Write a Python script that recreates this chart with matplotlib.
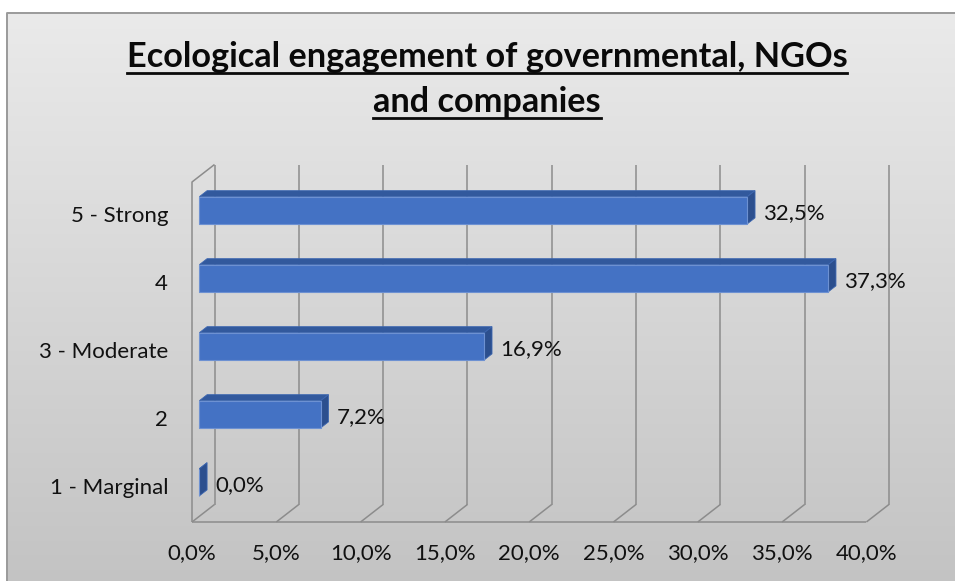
import matplotlib
matplotlib.use("Agg")
import matplotlib.pyplot as plt
import numpy as np

plt.rcParams['font.family'] = ['Lato', 'DejaVu Sans']

# survey answers, bottom to top
categories = ['1 - Marginal', '2', '3 - Moderate', '4', '5 - Strong']
values = [0.0, 7.2, 16.9, 37.3, 32.5]
x_ticks = [0, 5, 10, 15, 20, 25, 30, 35, 40]
title_lines = ['Ecological engagement of governmental, NGOs', 'and companies']

W, H = 955, 581
fig = plt.figure(figsize=(W / 100, H / 100), dpi=100)
fig.patch.set_facecolor('white')

# background panel with vertical grey gradient
bg = fig.add_axes([0, 0, 1, 1])
bg.set_xlim(0, W)
bg.set_ylim(H, 0)
bg.axis('off')
grad = np.linspace(0, 1, 256).reshape(-1, 1)
top_c = np.array([0xea, 0xea, 0xea]) / 255
bot_c = np.array([0xc3, 0xc3, 0xc3]) / 255
img = top_c + (bot_c - top_c) * grad[..., None]
bg.imshow(img, extent=(7, W + 5, H + 5, 13), aspect='auto', zorder=0)
bg.plot([7, 7, W + 5], [H + 5, 13, 13], color='#9a9a9a', lw=1.4, zorder=1)

# plot axes: x in percent on the front plane, y in category units
px_per_pct = 84.3 / 5
px_per_cat = 68.0
x0_px, floor_px = 192, 522
ax = fig.add_axes([0, 0, 1, 1])
ax.set_xlim(-x0_px / px_per_pct, (W - x0_px) / px_per_pct)
ax.set_ylim((floor_px - H) / px_per_cat - 0.5, floor_px / px_per_cat - 0.5)
ax.axis('off')
ax.patch.set_alpha(0)

# oblique depth offset (z = 0 front, z = 1 back wall)
KX = 22.5 / px_per_pct
KY = 17.5 / px_per_cat


def P(x, y, z):
    return (x + z * KX, y + z * KY)


ymin, ymax = -0.5, len(categories) - 0.5
xmax = x_ticks[-1]
grid_kw = dict(color='#8c8c8c', lw=1.1, zorder=2, solid_capstyle='butt')

# back wall gridlines and floor diagonals
for xt in x_ticks:
    a, b = P(xt, ymin, 1), P(xt, ymax, 1)
    ax.plot([a[0], b[0]], [a[1], b[1]], **grid_kw)
    a, b = P(xt, ymin, 0), P(xt, ymin, 1)
    ax.plot([a[0], b[0]], [a[1], b[1]], **grid_kw)
# floor front edge
a, b = P(0, ymin, 0), P(xmax, ymin, 0)
ax.plot([a[0], b[0]], [a[1], b[1]], **grid_kw)
# side wall outline
pts = [P(0, ymin, 0), P(0, ymax, 0), P(0, ymax, 1)]
ax.plot([p[0] for p in pts], [p[1] for p in pts], **grid_kw)

# 3d bars
z0, z1, hh = 0.33, 0.67, 0.2
front_c, top_c2, side_c = '#4472c4', '#32599d', '#2c4f8e'
for i, v in enumerate(values):
    top = [P(0, i + hh, z0), P(v, i + hh, z0), P(v, i + hh, z1), P(0, i + hh, z1)]
    side = [P(v, i - hh, z0), P(v, i - hh, z1), P(v, i + hh, z1), P(v, i + hh, z0)]
    front = [P(0, i - hh, z0), P(v, i - hh, z0), P(v, i + hh, z0), P(0, i + hh, z0)]
    ax.fill(*zip(*top), color=top_c2, lw=0.6, ec='#3c66b0', zorder=3)
    ax.fill(*zip(*side), color=side_c, lw=0.6, ec='#3c66b0', zorder=3)
    ax.fill(*zip(*front), color=front_c, lw=0.8, ec='#6d91d2', zorder=4)
    lx, ly = P(v, i, z1)
    ax.annotate(f"{v:.1f}%".replace('.', ','), xy=(lx, i), xytext=(8, 3),
                textcoords='offset pixels', ha='left', va='center',
                fontsize=16, color='#111111', zorder=5)

# category labels
for i, c in enumerate(categories):
    ax.annotate(c, xy=(0, i), xytext=(-24, 0), textcoords='offset pixels',
                ha='right', va='center', fontsize=16, color='#111111')

# percentage labels under the floor
for xt in x_ticks:
    ax.annotate(f"{xt:.1f}%".replace('.', ','), xy=(xt, ymin), xytext=(0, -31),
                textcoords='offset pixels', ha='center', va='center',
                fontsize=16, color='#111111')

# underlined two-line title
renderer = fig.canvas.get_renderer()
cx = 487
for line, base in zip(title_lines, [67, 112]):
    t = fig.text(cx / W, 1 - base / H, line, ha='center', va='baseline',
                 fontsize=24.7, fontweight='bold', color='#0a0a0a')
    bb = t.get_window_extent(renderer)
    uy = 1 - (base + 6) / H
    fig.add_artist(plt.Line2D([bb.x0 / W, bb.x1 / W], [uy, uy],
                              color='#0a0a0a', lw=2.0,
                              transform=fig.transFigure))

fig.savefig('out.png', dpi=100)
